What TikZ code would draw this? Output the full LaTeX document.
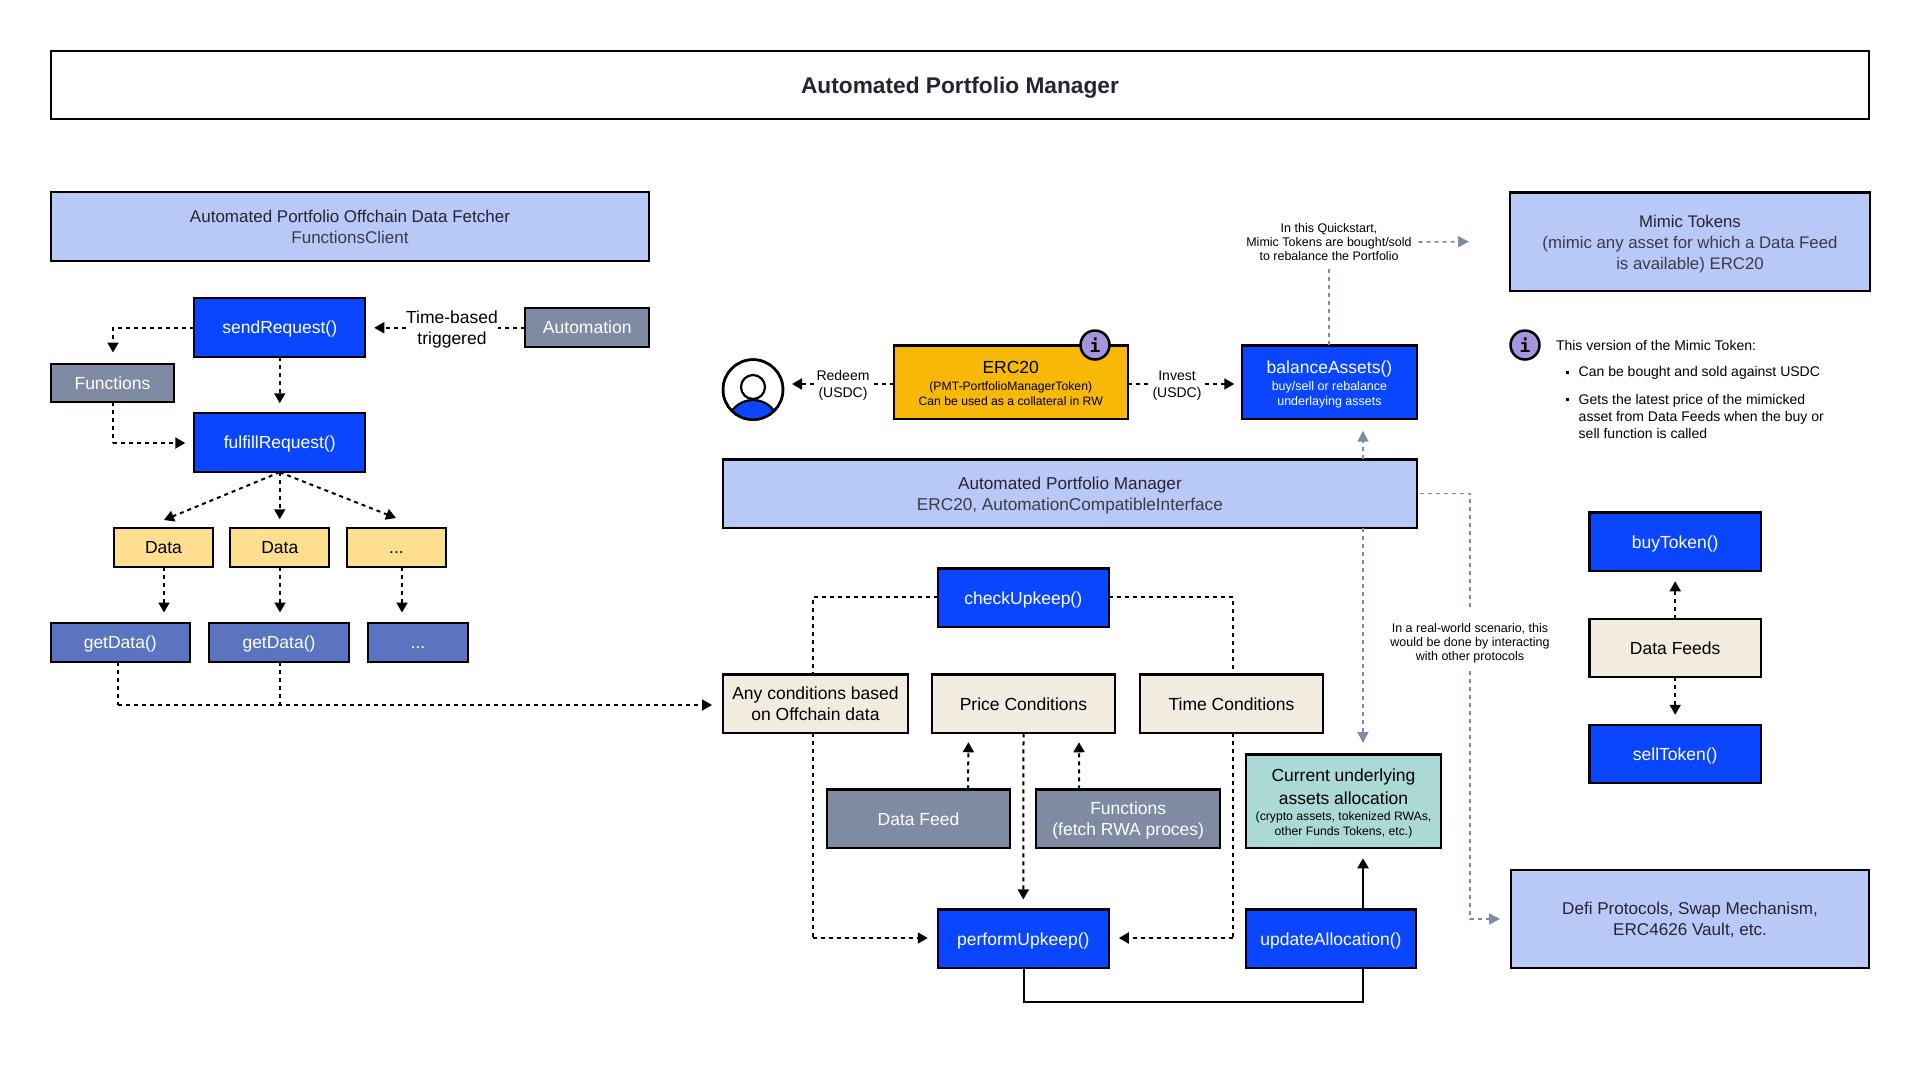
\documentclass[tikz,border=0pt]{standalone}
\usepackage{fontspec}
\setmainfont{Liberation Sans}
\newfontfamily\infofont{DejaVu Sans Mono}
\usetikzlibrary{arrows.meta,calc}
\definecolor{cblue}{HTML}{0A46FF}
\definecolor{clight}{HTML}{B8C9F8}
\definecolor{cslate}{HTML}{7F8AA3}
\definecolor{cyel}{HTML}{FDDF8F}
\definecolor{cget}{HTML}{5A74C2}
\definecolor{ccream}{HTML}{F2EBDF}
\definecolor{cteal}{HTML}{ABD9D5}
\definecolor{cgold}{HTML}{F7B808}
\definecolor{cpur}{HTML}{A794DE}
\definecolor{ctxt}{HTML}{2A2230}
\definecolor{csub}{HTML}{3C3A48}
\newcommand{\fs}[2]{\fontsize{#1}{#2}\selectfont}
\tikzset{
  base/.style={draw=black,line width=2.2pt,inner sep=0pt,outer sep=0pt,align=center,text=ctxt,font=\fs{17.5}{21}},
  plain/.style={base,fill=white},
  lightbox/.style={base,fill=clight},
  bluebox/.style={base,fill=cblue,text=white},
  slatebox/.style={base,fill=cslate,text=white},
  yelbox/.style={base,fill=cyel,text=black},
  getbox/.style={base,fill=cget,text=white},
  creambox/.style={base,fill=ccream,text=black},
  tealbox/.style={base,fill=cteal,text=black},
  goldbox/.style={base,fill=cgold,text=black},
  tight/.style={font=\fs{17.5}{15}},
  lbl/.style={inner sep=0pt,outer sep=0pt,align=center,text=black},
  note/.style={lbl,font=\fs{12.5}{14}},
  side/.style={inner sep=0pt,outer sep=0pt,align=left,anchor=west,text=black,font=\fs{14}{17}},
  dotb/.style={fill=black,draw=none,minimum size=3pt,inner sep=0pt,outer sep=0pt},
  info/.style={circle,draw=black,line width=2.5pt,fill=cpur,minimum size=29pt,inner sep=0pt,outer sep=0pt,font=\infofont\bfseries\fs{18}{20}},
  dd/.style={draw=black,line width=2pt,dash pattern=on 4pt off 4pt},
  ddn/.style={dd,-{Triangle[length=10pt,width=11pt]}},
  gg/.style={draw=cslate,line width=1.6pt,dash pattern=on 4pt off 4pt},
  ggn/.style={gg,-{Triangle[length=11pt,width=11pt]}},
  solidl/.style={draw=black,line width=2.2pt},
}
\newcommand{\bx}[7]{\node[#2,minimum width={#5-#3-1.5},minimum height={#6-#4-1.5}] (#1) at ({(#3+#5)/2},{(#4+#6)/2}) {\rule{0pt}{16.3pt}#7\rule[-4pt]{0pt}{0pt}};}
\begin{document}
\begin{tikzpicture}[x=1pt,y=-1pt]
\useasboundingbox (0,0) rectangle (1920,1080);
\fill[white] (0,0) rectangle (1920,1080);
% top
\bx{title}{plain}{50}{50}{1870}{120}{\bfseries\fs{22.7}{26}\rule{0pt}{22pt}Automated Portfolio Manager}
\bx{fetcher}{lightbox}{50}{191.5}{650}{262}{\fs{17}{21}Automated Portfolio Offchain Data Fetcher\\\fs{17}{21}\textcolor{csub}{FunctionsClient}}
% left column
\bx{send}{bluebox}{193.5}{297.5}{366}{358}{sendRequest()}
\bx{auto}{slatebox}{524.5}{307.5}{650}{348}{Automation}
\bx{func}{slatebox}{50}{363}{175}{403}{Functions}
\bx{fulfill}{bluebox}{193.5}{412.5}{366}{473}{fulfillRequest()}
\bx{dataa}{yelbox}{113}{527.5}{214}{568}{Data}
\bx{datab}{yelbox}{229.5}{527.5}{330}{568}{Data}
\bx{datac}{yelbox}{346}{527.5}{447}{568}{...}
\bx{geta}{getbox}{50}{622.5}{190.5}{663}{getData()}
\bx{getb}{getbox}{208.5}{622.5}{349.5}{663}{getData()}
\bx{getc}{getbox}{367.5}{622.5}{468.5}{663}{...}
\node[lbl,font=\fs{17.5}{21}] (timeb) at (452,329.5) {Time-based\\triggered};
% centre top
\node[circle,draw=black,line width=2.5pt,fill=white,minimum size=60pt,inner sep=0pt,outer sep=0pt] (user) at (753,389.6) {};
\begin{scope}
  \clip (user.center) circle (30pt);
  \fill[cblue] (753,426) circle (26pt);
  \draw[black,line width=2.2pt] (753,426) circle (26pt);
\end{scope}
\draw[black,line width=2.5pt] (user.center) circle (30pt);
\node[circle,draw=black,line width=2.2pt,fill=white,minimum size=24pt,inner sep=0pt] (head) at (753,387) {};
\bx{erc}{goldbox,tight}{893}{344.7}{1128.5}{420}{\rule{0pt}{18pt}ERC20\\[2pt]\fs{12.2}{15}(PMT-PortfolioManagerToken)\\\fs{12.2}{15}Can be used as a collateral in RW}
\bx{bal}{bluebox,tight}{1241.5}{344.7}{1417.4}{420}{\rule{0pt}{18pt}balanceAssets()\\[2pt]\fs{12.5}{15}buy/sell or rebalance\\\fs{12.5}{15}underlaying assets}
\node[info] (infoa) at (1095,345) {i};
\coordinate (midy) at (0,384);
\node[lbl,font=\fs{14}{17}] (redeem) at (843,385.5) {Redeem\\(USDC)};
\node[lbl,font=\fs{14}{17}] (invest) at (1177,385.5) {Invest\\(USDC)};
\node[note] (quick) at (1329,242) {In this Quickstart,\\Mimic Tokens are bought/sold\\to rebalance the Portfolio};
\bx{apm}{lightbox}{722.5}{458.7}{1417.4}{529}{\fs{17.2}{21}Automated Portfolio Manager\\\fs{17.2}{21}\textcolor{csub}{ERC20, AutomationCompatibleInterface}}
% right column
\bx{mimic}{lightbox}{1509.5}{191.7}{1870.5}{292}{\fs{16.8}{21}Mimic Tokens\\\fs{16.8}{21}\textcolor{csub}{(mimic any asset for which a Data Feed}\\\fs{16.8}{21}\textcolor{csub}{is available) ERC20}}
\node[info] (infob) at (1525,345) {i};
\node[side] (vers) at (1556,345) {This version of the Mimic Token:};
\node[dotb] (bula) at (1567,372) {};
\node[side] (lia) at (1578.7,373) {Can be bought and sold against USDC};
\node[dotb] (bulb) at (1567,399) {};
\node[side] (lib) at (1578.7,416) {Gets the latest price of the mimicked\\asset from Data Feeds when the buy or\\sell function is called};
\bx{buy}{bluebox}{1588.7}{511.7}{1761.7}{572}{buyToken()}
\bx{feeds}{creambox}{1588.7}{618}{1761.7}{678}{Data Feeds}
\bx{sell}{bluebox}{1588.7}{724}{1761.7}{784}{sellToken()}
% centre bottom
\bx{check}{bluebox}{937}{567.7}{1109.6}{628}{checkUpkeep()}
\bx{anyc}{creambox}{722.5}{673.7}{908.4}{734}{Any conditions based\\on Offchain data}
\bx{price}{creambox}{931}{673.7}{1116}{734}{Price Conditions}
\bx{timec}{creambox}{1139}{673.7}{1324}{734}{Time Conditions}
\bx{dfeed}{slatebox}{826}{788.7}{1011}{849}{Data Feed}
\bx{ffunc}{slatebox}{1035.4}{788.7}{1221}{849}{Functions\\(fetch RWA proces)}
\bx{curr}{tealbox,tight}{1245}{753.7}{1442}{849}{\rule{0pt}{18pt}Current underlying\\[5pt]assets allocation\\[1pt]\fs{12.2}{15}(crypto assets, tokenized RWAs,\\\fs{12.2}{15}other Funds Tokens, etc.)}
\bx{perf}{bluebox}{937}{908.7}{1109.6}{969}{performUpkeep()}
\bx{upd}{bluebox}{1245}{908.7}{1417}{969}{updateAllocation()}
\bx{defi}{lightbox}{1510}{869}{1870}{969}{\fs{17.1}{21}Defi Protocols, Swap Mechanism,\\\fs{17.1}{21}ERC4626 Vault, etc.}
\node[note] (real) at (1470,643) {In a real-world scenario, this\\would be done by interacting\\with other protocols};
% free ends
\coordinate (fnin) at (113,352.5);
\coordinate (funcbend) at (113,443);
\coordinate (fana) at (164,520);
\coordinate (fanc) at (396,518);
\coordinate (dacome) at (164,612.5);
\coordinate (dbcome) at (280,612.5);
\coordinate (dccome) at (402,612.5);
\coordinate (bus) at (118,705);
\coordinate (busb) at (280,705);
\coordinate (anyin) at (712,705);
\coordinate (lcorner) at (813,597);
\coordinate (rcorner) at (1233,597);
\coordinate (lbot) at (813,938);
\coordinate (rbot) at (1233,938);
\coordinate (loop) at (1024,1001.7);
\coordinate (gdown) at (1363,743);
\coordinate (gup) at (1363,430.7);
\coordinate (gmim) at (1469,241.7);
\coordinate (gturn) at (1470,493.5);
\coordinate (gbot) at (1470,919);
\coordinate (gdefi) at (1500,919);
% left connectors
\draw[dd] (auto.west) -- (timeb.east |- auto.west);
\draw[ddn,shorten >=9pt] (timeb.west |- send.east) -- (send.east);
\draw[ddn] (send.west) -| (fnin);
\draw[ddn,shorten >=10pt] (send.south) -- (fulfill.north);
\draw[dd] (func.south -| funcbend) -- (funcbend);
\draw[ddn,shorten >=9pt] (funcbend) -- (fulfill.west |- funcbend);
\draw[ddn] (fulfill.south) -- (fana);
\draw[ddn,shorten >=9pt] (fulfill.south) -- (fulfill.south |- datab.north);
\draw[ddn] (fulfill.south) -- (fanc);
\draw[ddn] (dataa.south -| dacome) -- (dacome);
\draw[ddn] (datab.south -| dbcome) -- (dbcome);
\draw[ddn] (datac.south -| dccome) -- (dccome);
\draw[dd] (geta.south -| bus) -- (bus);
\draw[dd] (getb.south -| busb) -- (busb);
\draw[ddn] (bus) -- (anyin);
% centre connectors
\draw[dd,shorten >=3pt] (erc.west |- midy) -- (redeem.east |- midy);
\draw[ddn,shorten <=3pt,shorten >=9pt] (redeem.west |- midy) -- (user.east |- midy);
\draw[dd,shorten >=3pt] (erc.east |- midy) -- (invest.west |- midy);
\draw[ddn,shorten <=3pt,shorten >=8pt] (invest.east |- midy) -- (bal.west |- midy);
\draw[gg,shorten >=6pt] (bal.north -| quick) -- (quick.south);
\draw[ggn,shorten <=7pt] (quick.east) -- (gmim);
\draw[ggn] (apm.north -| gup) -- (gup);
\draw[ggn] (apm.south -| gdown) -- (gdown);
\draw[gg,shorten <=3pt,shorten >=14pt] (apm.east |- gturn) -- (gturn) -- (real.north -| gturn);
\draw[gg,shorten <=8pt] (real.south -| gturn) -- (gbot);
\draw[ggn] (gbot) -- (gdefi);
\draw[dd] (check.west |- lcorner) -- (lcorner) -- (anyc.north -| lcorner);
\draw[dd] (anyc.south -| lbot) -- (lbot);
\draw[ddn,shorten >=10pt] (lbot) -- (perf.west |- lbot);
\draw[dd] (check.east |- rcorner) -- (rcorner) -- (timec.north -| rcorner);
\draw[dd] (timec.south -| rbot) -- (rbot);
\draw[ddn,shorten >=10pt] (rbot) -- (perf.east |- rbot);
\draw[ddn,shorten >=10pt] (price.south) -- (perf.north);
\draw[ddn,shorten >=9pt] ($(dfeed.north)+(49.5,0)$) -- ($(price.south)+(-55,0)$);
\draw[ddn,shorten >=9pt] ($(ffunc.north)+(-49,0)$) -- ($(price.south)+(55.5,0)$);
\draw[solidl] (perf.south -| loop) -- (loop) -| (upd.south -| gup);
\draw[solidl,-{Triangle[length=10pt,width=11pt]},shorten >=10pt] (upd.north -| gup) -- (curr.south -| gup);
% mimic connectors
\draw[ddn,shorten >=10pt] (feeds.north) -- (buy.south);
\draw[ddn,shorten >=10pt] (feeds.south) -- (sell.north);
\end{tikzpicture}
\end{document}
